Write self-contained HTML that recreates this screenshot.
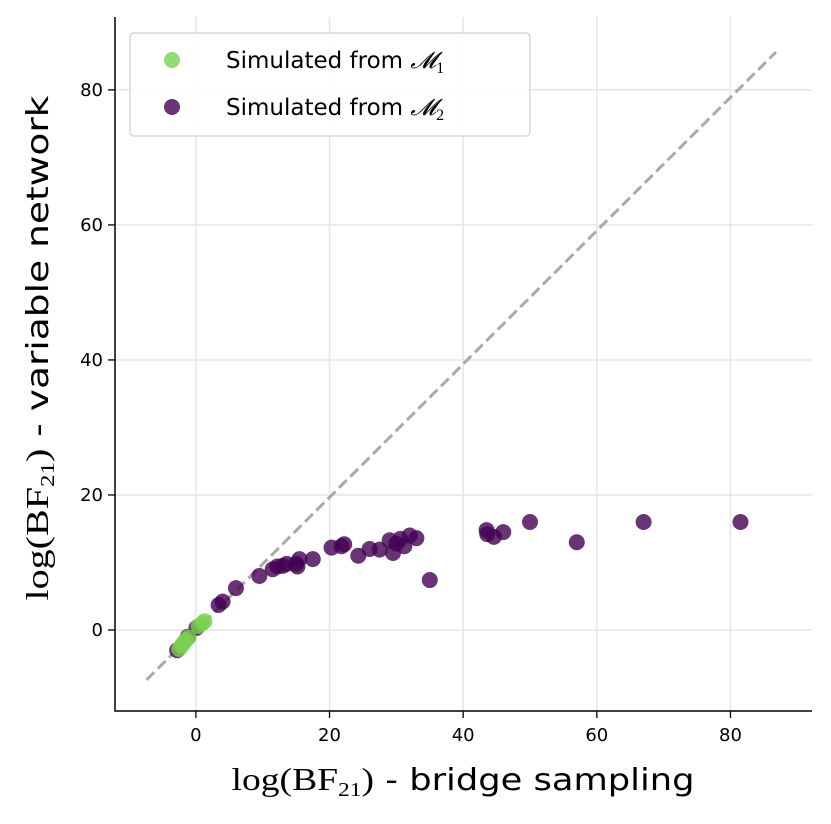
<!DOCTYPE html>
<html><head><meta charset="utf-8"><style>
body{margin:0;background:#fff;}
svg{font-family:"DejaVu Sans","Liberation Sans",sans-serif;}
</style></head><body>
<svg id="chart" width="831" height="819"></svg>
<script>
const m1x=[-2.5,-2.1,-1.8,-1.5,-1.1,0.4,1.0,1.3];
const m1y=[-2.8,-2.3,-1.9,-1.5,-1.1,0.6,1.0,1.3];
const m2x=[-2.8,-1.2,0.1,3.4,4.0,6.0,9.5,11.5,12.2,13.0,13.6,15.0,15.5,15.2,17.5,20.3,21.8,22.2,24.3,26.0,27.5,29.0,29.5,30.0,30.6,31.2,32.0,33.0,35.0,43.5,43.6,44.6,46.0,50.0,57.0,67.0,81.5];
const m2y=[-3.0,-1.0,0.3,3.7,4.2,6.2,8.0,9.0,9.4,9.5,9.8,9.8,10.5,9.4,10.5,12.2,12.4,12.7,11.0,12.0,11.9,13.3,11.4,12.8,13.5,12.4,14.0,13.6,7.4,14.8,14.2,13.8,14.5,16.0,13.0,16.0,16.0];
const xTicks=[0,20,40,60,80];
const yTicks=[0,20,40,60,80];
const X0=115,X1=812,Y0=711,Y1=17;
const xmin=-12.1,xmax=92.2,ymin=-12.0,ymax=90.8;
const sx=v=>X0+(v-xmin)/(xmax-xmin)*(X1-X0);
const sy=v=>Y0-(v-ymin)/(ymax-ymin)*(Y0-Y1);
const svg=document.getElementById('chart');
const NS='http://www.w3.org/2000/svg';
function mk(t,a,p){const e=document.createElementNS(NS,t);for(const k in a)e.setAttribute(k,a[k]);(p||svg).appendChild(e);return e;}
xTicks.forEach(t=>{
 const g=mk('line',{x1:sx(t),x2:sx(t),y1:Y1,y2:Y0,stroke:'#e6e6e6','stroke-width':1.5});
 
 
 const k=mk('line',{x1:sx(t),x2:sx(t),y1:Y0,y2:Y0+7,stroke:'#000','stroke-width':1.3});
 
 
 const l=mk('text',{x:sx(t),y:Y0+30,'text-anchor':'middle','font-size':18});
 l.textContent=t;
 
 
});
yTicks.forEach(t=>{
 const g=mk('line',{x1:X0,x2:X1,y1:sy(t),y2:sy(t),stroke:'#e6e6e6','stroke-width':1.5});
 
 
 const k=mk('line',{x1:X0-7,x2:X0,y1:sy(t),y2:sy(t),stroke:'#000','stroke-width':1.3});
 
 
 const l=mk('text',{x:X0-12,y:sy(t)+6,'text-anchor':'end','font-size':18});
 l.textContent=t;
 
 
});
const d=mk('line',{x1:sx(-7.4),y1:sy(-7.4),x2:sx(86.8),y2:sy(85.6),stroke:'#aaaaaa','stroke-width':3,'stroke-dasharray':'11,5'});


m2x.forEach((v,i)=>{
 const c=mk('circle',{cx:sx(v),cy:sy(m2y[i]),r:8,fill:'#440154','fill-opacity':0.8});
 
 
});
m1x.forEach((v,i)=>{
 const c=mk('circle',{cx:sx(v),cy:sy(m1y[i]),r:8,fill:'#7ad151','fill-opacity':0.8});
 
 
});
const ax=mk('path',{d:`M${X0},${Y1}V${Y0}H${X1}`,fill:'none',stroke:'#000','stroke-width':1.5});


</script>
<svg width="831" height="819" style="position:absolute;left:0;top:0">
<g>
<rect x="130" y="33" width="400" height="103" rx="4" fill="#fff" fill-opacity="0.85" stroke="#d0d0d0" stroke-width="1.3"/>
<circle cx="172" cy="60" r="8" fill="#7ad151" fill-opacity="0.8"/>
<text x="226" y="68" font-size="23" font-family="DejaVu Sans, Liberation Sans, sans-serif">Simulated from <tspan font-family="Liberation Serif, serif" font-style="italic">𝓜</tspan><tspan font-size="16" dy="5" font-family="Liberation Serif, serif">1</tspan></text>
<circle cx="172" cy="107" r="8" fill="#440154" fill-opacity="0.8"/>
<text x="226" y="115" font-size="23" font-family="DejaVu Sans, Liberation Sans, sans-serif">Simulated from <tspan font-family="Liberation Serif, serif" font-style="italic">𝓜</tspan><tspan font-size="16" dy="5" font-family="Liberation Serif, serif">2</tspan></text>
</g>
<text x="463" y="790" text-anchor="middle" font-size="30" textLength="463" lengthAdjust="spacingAndGlyphs"><tspan font-family="Liberation Serif, serif" font-size="32">log(BF</tspan><tspan font-family="Liberation Serif, serif" font-size="20" dy="6">21</tspan><tspan font-family="Liberation Serif, serif" font-size="32" dy="-6">)</tspan><tspan font-family="DejaVu Sans, sans-serif"> - bridge sampling</tspan></text>
<text transform="translate(48,348) rotate(-90)" text-anchor="middle" font-size="30" textLength="505" lengthAdjust="spacingAndGlyphs"><tspan font-family="Liberation Serif, serif" font-size="32">log(BF</tspan><tspan font-family="Liberation Serif, serif" font-size="20" dy="6">21</tspan><tspan font-family="Liberation Serif, serif" font-size="32" dy="-6">)</tspan><tspan font-family="DejaVu Sans, sans-serif"> - variable network</tspan></text>
</svg>
</body></html>
